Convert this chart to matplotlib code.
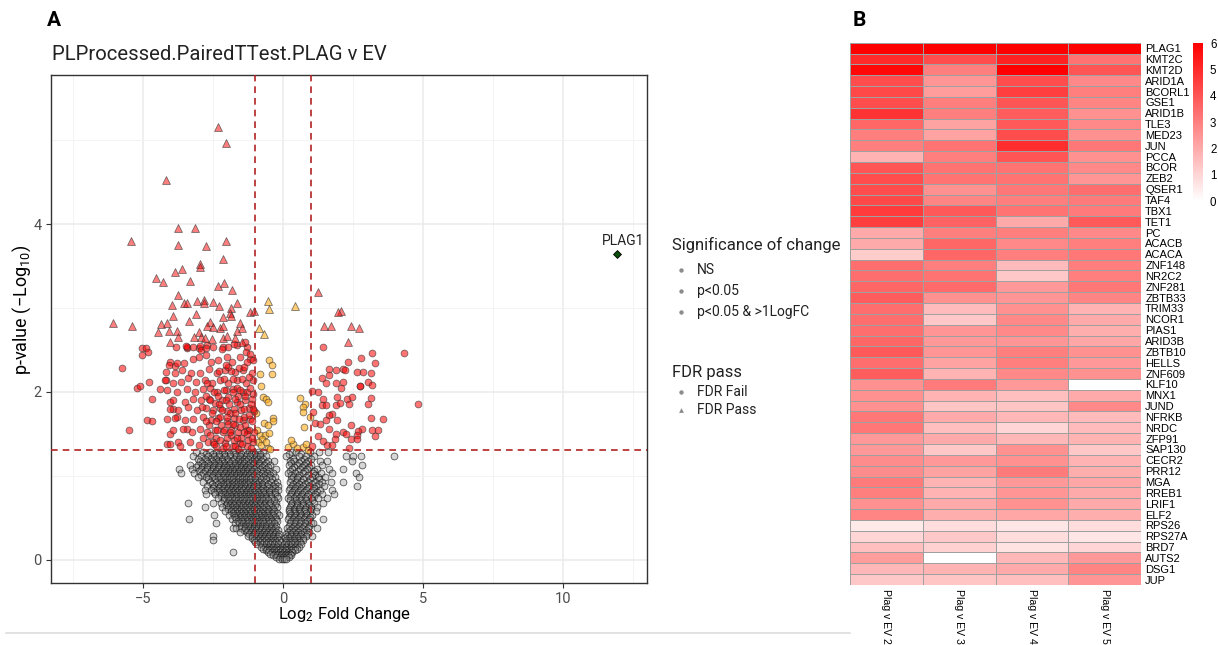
import numpy as np
import matplotlib
matplotlib.use("Agg")
import matplotlib.pyplot as plt
from matplotlib.colors import LinearSegmentedColormap

plt.rcParams['font.family'] = ['Roboto', 'DejaVu Sans']
plt.rcParams['mathtext.fontset'] = 'custom'
plt.rcParams['mathtext.rm'] = 'Roboto'
plt.rcParams['mathtext.default'] = 'regular'

# ---------------- Volcano data: (log2 fold change, -log10 p) ----------------
# Not significant, grouped by -log10 p level
ns_rows = [
    (1.28, [-3.12, -2.86, -2.61, -2.40, -2.18, -1.97, -1.79, -1.58, -1.41, -1.22, -1.06, -0.90, -0.72, 0.31, 0.47, 0.97, 1.27, 1.62]),
    (1.255, [-2.75, -2.50, -2.30, -2.10, -1.90, -1.70, -1.50, -1.30, -1.15, -0.98, -0.82, 0.20, 0.65]),
    (1.23, [-3.22, -2.93, -2.68, -2.47, -2.27, -2.07, -1.88, -1.67, -1.52, -1.33, -1.16, -0.97, -0.81, -0.62, 0.12, 0.56, 0.82, 1.12, 2.26, 2.49, 2.77, 3.98]),
    (1.205, [-3.05, -2.80, -2.58, -2.38, -2.18, -2.00, -1.74, -1.56, -1.39, -1.24, -1.05, -0.88, -0.70, 0.35, 0.75, 1.00]),
    (1.18, [-2.97, -2.72, -2.52, -2.33, -2.16, -1.96, -1.81, -1.62, -1.46, -1.31, -1.12, -0.95, -0.77, -0.52, -0.31, 0.26, 0.41, 0.66, 0.91, 1.31, 1.56, 2.46]),
    (1.155, [-2.88, -2.66, -2.47, -2.27, -2.10, -1.88, -1.70, -1.54, -1.38, -1.19, -1.02, -0.86, -0.60, 0.30, 0.58, 0.84]),
    (1.13, [-3.31, -3.02, -2.81, -2.62, -2.42, -2.23, -2.06, -1.91, -1.72, -1.56, -1.41, -1.26, -1.07, -0.86, -0.66, -0.46, 0.21, 0.51, 0.76, 1.01, 1.41, 2.81]),
    (1.105, [-3.10, -2.90, -2.70, -2.50, -2.32, -2.12, -1.98, -1.82, -1.64, -1.48, -1.33, -1.16, -0.96, -0.76, -0.55, 0.40, 0.68, 0.93]),
    (1.08, [-3.71, -3.26, -2.91, -2.71, -2.51, -2.31, -2.14, -1.96, -1.81, -1.66, -1.51, -1.36, -1.21, -1.02, -0.82, -0.61, -0.26, 0.31, 0.61, 0.86, 1.21, 1.66, 2.16]),
    (1.055, [-2.98, -2.78, -2.58, -2.40, -2.20, -2.02, -1.88, -1.73, -1.58, -1.43, -1.28, -1.11, -0.92, -0.70, -0.48, 0.25, 0.52, 0.78, 1.10]),
    (1.03, [-3.64, -3.16, -2.86, -2.61, -2.41, -2.24, -2.06, -1.89, -1.74, -1.59, -1.44, -1.29, -1.14, -0.96, -0.76, -0.56, -0.36, 0.19, 0.44, 0.71, 1.06, 1.36, 1.76, 2.62]),
    (1.005, [-2.92, -2.68, -2.48, -2.32, -2.14, -1.97, -1.82, -1.67, -1.52, -1.37, -1.22, -1.05, -0.85, -0.65, -0.45, 0.30, 0.58, 0.88, 1.15]),
    (0.98, [-3.02, -2.76, -2.52, -2.31, -2.14, -1.99, -1.84, -1.69, -1.54, -1.39, -1.24, -1.09, -0.91, -0.71, -0.49, -0.29, 0.36, 0.54, 0.81, 1.02, 1.26, 1.51, 2.71]),
    (0.955, [-2.66, -2.44, -2.25, -2.08, -1.92, -1.77, -1.62, -1.47, -1.32, -1.17, -1.01, -0.80, -0.60, -0.38, 0.30, 0.50, 0.72, 0.96, 1.30]),
    (0.93, [-2.84, -2.61, -2.39, -2.21, -2.04, -1.91, -1.76, -1.61, -1.46, -1.31, -1.16, -1.01, -0.84, -0.66, -0.44, -0.21, 0.26, 0.46, 0.64, 0.89, 1.16, 1.41, 1.71, 2.14]),
    (0.905, [-2.55, -2.32, -2.14, -1.98, -1.83, -1.68, -1.53, -1.38, -1.23, -1.08, -0.93, -0.76, -0.55, -0.30, 0.36, 0.56, 0.80, 1.05, 1.30]),
    (0.88, [-2.71, -2.46, -2.26, -2.09, -1.94, -1.79, -1.64, -1.49, -1.34, -1.19, -1.04, -0.89, -0.74, -0.56, -0.34, -0.16, 0.31, 0.49, 0.71, 0.94, 1.19, 1.46, 2.63]),
    (0.855, [-2.50, -2.30, -2.12, -1.96, -1.81, -1.66, -1.51, -1.36, -1.21, -1.06, -0.90, -0.70, -0.50, -0.28, 0.26, 0.44, 0.66, 0.90, 1.12]),
    (0.83, [-2.79, -2.56, -2.36, -2.16, -2.01, -1.86, -1.71, -1.56, -1.41, -1.26, -1.11, -0.96, -0.79, -0.61, -0.41, -0.19, 0.21, 0.39, 0.61, 0.84, 1.06, 1.31, 1.74]),
    (0.805, [-2.45, -2.27, -2.09, -1.93, -1.78, -1.63, -1.48, -1.33, -1.18, -1.03, -0.88, -0.70, -0.50, -0.30, 0.34, 0.55, 0.76, 1.00, 1.22]),
    (0.78, [-2.76, -2.41, -2.21, -2.06, -1.91, -1.76, -1.61, -1.46, -1.31, -1.16, -1.01, -0.86, -0.69, -0.51, -0.29, 0.29, 0.51, 0.69, 0.91, 1.14, 1.41, 1.81]),
    (0.755, [-2.20, -2.00, -1.84, -1.69, -1.54, -1.39, -1.24, -1.09, -0.94, -0.78, -0.62, -0.42, -0.22, 0.24, 0.45, 0.66, 0.86, 1.10]),
    (0.73, [-2.31, -2.11, -1.96, -1.81, -1.66, -1.51, -1.36, -1.21, -1.06, -0.91, -0.76, -0.59, -0.41, -0.19, 0.19, 0.41, 0.59, 0.79, 1.01, 1.24, 1.56]),
    (0.705, [-2.10, -1.92, -1.76, -1.61, -1.46, -1.31, -1.16, -1.01, -0.86, -0.70, -0.52, -0.32, 0.25, 0.45, 0.64, 0.84, 1.05]),
    (0.68, [-3.38, -2.49, -2.21, -2.01, -1.86, -1.71, -1.56, -1.41, -1.26, -1.11, -0.96, -0.81, -0.64, -0.46, -0.24, 0.31, 0.49, 0.71, 0.89, 1.11, 1.44]),
    (0.655, [-2.05, -1.88, -1.73, -1.58, -1.43, -1.28, -1.13, -0.98, -0.83, -0.68, -0.50, -0.30, 0.28, 0.50, 0.70, 0.92]),
    (0.63, [-2.79, -2.16, -1.96, -1.81, -1.66, -1.51, -1.36, -1.21, -1.06, -0.91, -0.76, -0.59, -0.39, -0.21, 0.24, 0.46, 0.61, 0.81, 0.99, 1.21]),
    (0.605, [-1.95, -1.78, -1.63, -1.48, -1.33, -1.18, -1.03, -0.88, -0.72, -0.55, -0.35, 0.22, 0.40, 0.58, 0.78, 1.00]),
    (0.58, [-2.06, -1.86, -1.71, -1.56, -1.41, -1.26, -1.11, -0.96, -0.81, -0.64, -0.49, -0.31, 0.21, 0.39, 0.56, 0.74, 0.96, 1.19]),
    (0.555, [-1.80, -1.64, -1.49, -1.34, -1.19, -1.04, -0.89, -0.73, -0.57, -0.40, -0.20, 0.26, 0.44, 0.62, 0.84]),
    (0.53, [-2.47, -1.91, -1.76, -1.61, -1.46, -1.31, -1.16, -1.01, -0.86, -0.69, -0.54, -0.36, -0.14, 0.29, 0.46, 0.64, 0.86, 1.04]),
    (0.505, [-1.70, -1.55, -1.40, -1.25, -1.10, -0.95, -0.80, -0.64, -0.48, -0.30, 0.22, 0.40, 0.60, 0.80, 0.98]),
    (0.48, [-3.34, -1.81, -1.66, -1.51, -1.36, -1.21, -1.06, -0.91, -0.76, -0.59, -0.44, -0.26, 0.19, 0.36, 0.54, 0.76, 0.94, 1.44]),
    (0.455, [-1.60, -1.45, -1.30, -1.15, -1.00, -0.85, -0.70, -0.54, -0.38, -0.20, 0.28, 0.46, 0.66, 0.86]),
    (0.43, [-2.39, -1.71, -1.56, -1.41, -1.26, -1.11, -0.96, -0.81, -0.66, -0.49, -0.31, 0.24, 0.44, 0.61, 0.79, 1.01, 1.08]),
    (0.405, [-1.50, -1.35, -1.20, -1.05, -0.90, -0.75, -0.60, -0.44, -0.26, 0.20, 0.38, 0.56, 0.74, 0.94]),
    (0.38, [-1.78, -1.66, -1.49, -1.34, -1.19, -1.04, -0.89, -0.74, -0.59, -0.44, -0.29, 0.14, 0.31, 0.49, 0.69, 0.89, 1.20]),
    (0.355, [-1.40, -1.25, -1.10, -0.95, -0.80, -0.65, -0.50, -0.34, -0.18, 0.24, 0.42, 0.62, 0.82]),
    (0.33, [-1.54, -1.29, -1.14, -0.99, -0.84, -0.69, -0.54, -0.39, -0.24, 0.19, 0.36, 0.54, 0.76, 0.94]),
    (0.305, [-1.20, -1.05, -0.90, -0.75, -0.60, -0.45, -0.30, -0.15, 0.12, 0.28, 0.46, 0.66, 0.86]),
    (0.28, [-2.51, -1.24, -1.09, -0.94, -0.79, -0.64, -0.49, -0.34, -0.19, 0.14, 0.29, 0.46, 0.61, 0.81, 1.04]),
    (0.255, [-1.12, -0.97, -0.82, -0.67, -0.52, -0.37, -0.22, 0.08, 0.22, 0.38, 0.54, 0.70]),
    (0.23, [-2.48, -1.04, -0.89, -0.74, -0.59, -0.44, -0.29, -0.14, 0.11, 0.24, 0.39, 0.56, 0.71]),
    (0.205, [-0.98, -0.83, -0.68, -0.53, -0.38, -0.23, -0.08, 0.12, 0.28, 0.44, 0.60]),
    (0.18, [-0.91, -0.76, -0.61, -0.46, -0.31, -0.16, 0.04, 0.19, 0.34, 0.49, 0.64]),
    (0.155, [-0.80, -0.65, -0.50, -0.35, -0.20, -0.05, 0.12, 0.28, 0.42, 0.56]),
    (0.13, [-0.71, -0.56, -0.41, -0.26, -0.11, 0.06, 0.21, 0.36, 0.49]),
    (0.11, [-0.62, -0.48, -0.33, -0.18, -0.03, 0.12, 0.27, 0.42]),
    (0.09, [-1.79, -0.54, -0.39, -0.24, -0.09, 0.04, 0.19, 0.34]),
    (0.07, [-0.45, -0.30, -0.16, -0.02, 0.12, 0.26]),
    (0.05, [-0.36, -0.21, -0.08, 0.06, 0.17, 0.29]),
    (0.03, [-0.26, -0.12, 0.00, 0.12, 0.22]),
    (0.01, [-0.14, -0.04, 0.04, 0.12]),
]

# p < 0.05 but |log2FC| < 1, FDR fail
orange_fail = [
    (-0.51, 2.38), (-0.40, 2.32), (-0.83, 2.21), (-0.39, 2.21), (-0.78, 2.07), (-0.71, 1.94),
    (-0.59, 1.91), (-0.55, 1.88), (-0.37, 1.69), (-0.35, 1.65), (-0.67, 1.63), (-0.55, 1.60),
    (-0.83, 1.49), (-0.65, 1.49), (-0.51, 1.51), (-0.74, 1.44), (-0.89, 1.40), (-0.80, 1.37),
    (-0.55, 1.33), (-0.45, 1.32), (-0.60, 1.40), (-0.92, 1.55), (-0.95, 1.75),
    (0.61, 1.93), (0.79, 1.85), (0.71, 1.82), (0.73, 1.76), (0.75, 1.58), (0.19, 1.34),
    (0.36, 1.38), (0.50, 1.33), (0.70, 1.34), (0.82, 1.38), (0.30, 1.42), (0.88, 1.31), (0.95, 1.70),
]

# p < 0.05 but |log2FC| < 1, FDR pass
orange_pass = [(-0.54, 3.08), (-0.50, 2.99), (0.43, 3.03), (-0.86, 2.76), (-0.68, 2.69)]

# p < 0.05 and |log2FC| > 1, FDR fail
red_fail = [
    (-5.75, 2.29), (-5.05, 2.52), (-4.89, 2.52), (-5.04, 2.44), (-4.83, 2.47), (-5.20, 2.05),
    (-5.11, 2.07), (-4.78, 2.12), (-4.40, 2.04), (-5.50, 1.55), (-4.84, 1.67), (-4.68, 1.65),
    (-4.68, 1.91), (-4.18, 2.14), (-4.04, 2.36), (-3.86, 2.31), (-3.44, 2.52), (-2.99, 2.52),
    (-4.04, 1.88), (-3.92, 1.80), (-3.44, 1.56), (-4.04, 1.50), (-3.77, 1.70), (-4.15, 1.38),
    (-3.75, 1.40), (-3.43, 2.53), (-2.96, 2.55), (-2.71, 2.56), (-2.14, 2.53), (-1.64, 2.56),
    (-1.29, 2.53), (-1.36, 2.60), (-1.18, 2.39),
    (-3.82, 2.53), (-3.46, 2.55), (-3.20, 2.54), (-2.94, 2.50), (-2.73, 2.52), (-2.49, 2.54),
    (-2.19, 2.51), (-1.95, 2.54), (-1.75, 2.57), (-1.32, 2.47), (-1.18, 2.45),
    (-4.06, 2.32), (-3.80, 2.35), (-3.54, 2.34), (-3.20, 2.39), (-2.99, 2.42), (-2.73, 2.44),
    (-2.58, 2.36), (-2.31, 2.38), (-2.01, 2.42), (-1.83, 2.36), (-1.54, 2.42), (-1.30, 2.36),
    (-1.08, 2.38), (-4.18, 2.24), (-3.86, 2.23), (-3.62, 2.26), (-3.30, 2.22), (-2.96, 2.23),
    (-2.63, 2.27), (-2.37, 2.22), (-2.07, 2.26), (-1.71, 2.24), (-1.42, 2.26), (-1.12, 2.22),
    (-4.21, 2.14), (-3.92, 2.10), (-3.65, 2.12), (-3.38, 2.16), (-3.11, 2.12), (-2.79, 2.14),
    (-2.55, 2.10), (-2.23, 2.14), (-1.95, 2.10), (-1.65, 2.14), (-1.32, 2.10), (-1.08, 2.14),
    (-4.15, 2.02), (-3.80, 2.00), (-3.44, 2.03), (-3.14, 2.00), (-2.87, 2.03), (-2.61, 2.05),
    (-2.35, 2.00), (-2.04, 2.02), (-1.77, 2.04), (-1.44, 2.00), (-1.06, 1.98),
    (-3.92, 1.90), (-3.50, 1.88), (-3.20, 1.92), (-2.94, 1.90), (-2.63, 1.92), (-2.43, 1.87),
    (-2.19, 1.90), (-1.95, 1.94), (-1.65, 1.88), (-1.35, 1.90), (-1.11, 1.92),
    (-4.04, 1.80), (-3.74, 1.78), (-3.38, 1.82), (-3.06, 1.78), (-2.75, 1.81), (-2.49, 1.78),
    (-2.25, 1.81), (-2.01, 1.77), (-1.75, 1.80), (-1.48, 1.78), (-1.20, 1.81), (-1.02, 1.77),
    (-4.15, 1.68), (-3.86, 1.69), (-3.50, 1.66), (-3.20, 1.68), (-2.85, 1.70), (-2.58, 1.66),
    (-2.31, 1.69), (-2.01, 1.65), (-1.75, 1.69), (-1.44, 1.66), (-1.18, 1.68),
    (-3.92, 1.54), (-3.56, 1.56), (-3.26, 1.52), (-2.96, 1.56), (-2.70, 1.52), (-2.43, 1.55),
    (-2.13, 1.52), (-1.87, 1.55), (-1.60, 1.52), (-1.30, 1.55), (-1.04, 1.52),
    (-4.04, 1.38), (-3.68, 1.36), (-3.32, 1.40), (-2.99, 1.37), (-2.67, 1.40), (-2.40, 1.36),
    (-2.08, 1.39), (-1.80, 1.36), (-1.54, 1.39), (-1.28, 1.36), (-1.06, 1.40),
    (-2.40, 1.45), (-2.20, 1.60), (-2.00, 1.45), (-1.90, 1.75), (-1.70, 1.60), (-1.60, 1.95),
    (-1.50, 1.45), (-1.40, 1.70), (-1.30, 2.00), (-1.20, 1.55), (-2.30, 1.85), (-2.10, 2.15),
    (-1.85, 2.25), (-1.65, 2.05), (-2.55, 1.75), (-2.45, 2.00), (-1.15, 1.85), (-1.25, 1.42),
    (-1.75, 1.42), (-2.15, 1.33), (-1.95, 1.62), (-1.55, 1.85), (-2.35, 1.55), (-2.65, 1.60),
    (-1.45, 2.15), (-1.10, 1.65), (-2.05, 1.90), (-1.80, 2.00), (-2.25, 1.70), (-1.62, 1.32),
    (-2.85, 1.45), (-2.75, 1.95), (-1.35, 1.60), (-1.95, 2.30), (-2.50, 1.40), (-1.70, 1.75),
    (-2.45, 1.38), (-2.25, 1.42), (-2.05, 1.35), (-1.85, 1.48), (-1.65, 1.45), (-1.45, 1.38),
    (-1.28, 1.50), (-1.12, 1.45), (-2.38, 1.65), (-2.18, 1.78), (-1.98, 1.70), (-1.78, 1.62),
    (-1.58, 1.68), (-1.38, 1.80), (-1.22, 1.72), (-1.08, 1.80), (-2.32, 1.95), (-2.12, 2.02),
    (-1.92, 1.85), (-1.72, 1.92), (-1.52, 2.02), (-1.36, 1.95), (-1.18, 2.05), (-2.28, 2.25),
    (-2.02, 2.32), (-1.78, 2.15), (-1.58, 2.28), (-1.38, 2.30), (-1.22, 2.18), (-2.60, 1.48),
    (-2.75, 1.65), (-2.62, 1.90), (-2.88, 1.82), (-2.70, 2.10), (-1.90, 1.52), (-1.55, 1.58),
    (-2.10, 1.55), (-1.70, 1.35), (-1.40, 1.52), (-1.15, 1.33),
    (1.44, 2.54), (4.34, 2.46), (3.18, 2.46), (2.79, 2.40), (3.30, 2.34), (2.31, 2.36),
    (1.65, 2.27), (1.89, 2.26), (2.16, 2.27), (2.21, 2.26), (2.66, 2.24), (2.85, 2.24),
    (1.38, 2.17), (1.64, 2.20), (3.13, 2.22), (1.52, 2.10), (1.90, 2.11), (2.15, 2.12),
    (2.07, 2.05), (2.74, 2.07), (3.04, 2.12), (3.17, 2.08), (1.05, 2.01), (1.25, 2.00),
    (1.92, 1.94), (1.42, 1.91), (1.39, 1.84), (1.89, 1.84), (2.05, 1.87), (2.27, 1.92),
    (2.45, 1.94), (2.36, 1.85), (3.04, 1.86), (3.14, 1.93), (4.81, 1.86), (1.52, 1.84),
    (1.74, 1.74), (1.65, 1.73), (1.08, 1.76), (1.13, 1.63), (1.32, 1.62), (1.54, 1.67),
    (1.94, 1.66), (2.44, 1.60), (2.81, 1.56), (3.13, 1.69), (3.58, 1.68), (1.65, 1.56),
    (1.90, 1.50), (2.13, 1.52), (2.25, 1.50), (2.69, 1.53), (2.63, 1.49), (3.17, 1.55),
    (3.40, 1.55), (3.29, 1.47), (1.26, 1.47), (1.86, 1.44), (1.42, 1.41), (1.58, 1.37),
    (1.74, 1.37), (2.43, 1.44), (2.63, 1.44), (2.36, 1.33), (1.05, 1.36), (2.75, 2.07),
]

# p < 0.05 and |log2FC| > 1, FDR pass
red_pass = [
    (-2.32, 5.16), (-2.04, 4.97), (-4.18, 4.53), (-3.75, 3.95), (-3.14, 3.95), (-5.43, 3.80),
    (-3.75, 3.75), (-2.75, 3.74), (-2.04, 3.80), (-2.14, 3.58), (-2.96, 3.52), (-2.96, 3.49),
    (-3.86, 3.43), (-3.61, 3.46), (-4.54, 3.36), (-4.29, 3.31), (-3.32, 3.32), (-2.32, 3.26),
    (-2.11, 3.30), (-1.82, 3.22), (-3.75, 3.15), (-3.96, 3.04), (-3.54, 3.06), (-3.43, 3.06),
    (-3.07, 3.08), (-2.82, 3.10), (-2.82, 3.06), (-2.50, 3.07), (-2.29, 3.03), (-1.64, 3.06),
    (-1.86, 3.00), (-1.18, 2.95), (-1.04, 2.97), (-6.07, 2.82), (-5.39, 2.78), (-3.93, 2.90),
    (-3.36, 2.85), (-3.11, 2.93), (-1.89, 2.94), (-2.14, 2.89), (-1.86, 2.90), (-4.36, 2.81),
    (-4.14, 2.82), (-4.07, 2.73), (-4.46, 2.72), (-3.79, 2.73), (-3.75, 2.65), (-4.04, 2.59),
    (-2.61, 2.83), (-2.71, 2.79), (-2.50, 2.77), (-2.25, 2.76), (-2.14, 2.78), (-3.00, 2.71),
    (-3.18, 2.65), (-2.93, 2.65), (-2.79, 2.64), (-2.54, 2.63), (-2.14, 2.64), (-2.00, 2.67),
    (-1.64, 2.73), (-1.54, 2.82), (-1.46, 2.76), (-1.71, 2.64), (-1.46, 2.60),
    (1.25, 3.19), (2.07, 2.97), (1.96, 2.95), (1.46, 2.79), (1.71, 2.78), (2.43, 2.78),
    (2.71, 2.76), (2.32, 2.60),
]

plag1_point = (11.93, 3.65)
p_cut = 1.301   # -log10(0.05)
fc_cut = 1.0

# ---------------- Heatmap data ----------------
genes = ["PLAG1", "KMT2C", "KMT2D", "ARID1A", "BCORL1", "GSE1", "ARID1B", "TLE3", "MED23", "JUN",
         "PCCA", "BCOR", "ZEB2", "QSER1", "TAF4", "TBX1", "TET1", "PC", "ACACB", "ACACA",
         "ZNF148", "NR2C2", "ZNF281", "ZBTB33", "TRIM33", "NCOR1", "PIAS1", "ARID3B", "ZBTB10", "HELLS",
         "ZNF609", "KLF10", "MNX1", "JUND", "NFRKB", "NRDC", "ZFP91", "SAP130", "CECR2", "PRR12",
         "MGA", "RREB1", "LRIF1", "ELF2", "RPS26", "RPS27A", "BRD7", "AUTS2", "DSG1", "JUP"]
comparisons = ["Plag v EV 2", "Plag v EV 3", "Plag v EV 4", "Plag v EV 5"]
ev2 = [6.0, 5.0, 5.8, 4.2, 4.3, 4.2, 4.8, 3.6, 3.0, 3.0,
       1.8, 4.0, 4.2, 4.2, 4.3, 4.6, 4.5, 2.0, 2.0, 1.2,
       3.4, 3.4, 3.6, 3.8, 3.4, 3.4, 3.4, 3.6, 3.9, 3.4,
       3.8, 2.6, 2.6, 2.6, 3.2, 3.2, 2.4, 2.4, 2.7, 2.7,
       3.1, 3.0, 2.6, 2.9, 0.5, 1.0, 1.5, 2.3, 1.7, 1.3]
ev3 = [6.0, 4.2, 3.0, 2.5, 2.3, 3.0, 3.0, 2.2, 2.2, 3.3,
       3.0, 3.3, 3.3, 2.6, 2.9, 3.9, 3.7, 3.0, 3.6, 3.6,
       3.0, 3.3, 3.5, 2.6, 1.6, 1.3, 2.5, 2.4, 2.5, 2.2,
       1.8, 3.1, 1.8, 1.4, 2.0, 1.5, 2.0, 1.3, 2.4, 2.2,
       1.8, 1.8, 2.0, 1.9, 0.8, 1.3, 1.1, 0.0, 1.8, 1.4]
ev4 = [6.0, 5.2, 6.0, 4.2, 4.5, 4.0, 3.8, 3.9, 4.2, 4.9,
       4.0, 3.3, 3.3, 3.2, 3.0, 3.3, 2.0, 3.0, 2.8, 3.0,
       1.6, 1.3, 2.4, 2.5, 2.6, 2.8, 2.8, 2.5, 3.0, 3.0,
       2.8, 2.4, 1.5, 1.4, 1.7, 1.0, 1.7, 2.6, 2.6, 3.1,
       2.4, 2.5, 2.6, 2.1, 0.6, 0.8, 0.7, 1.7, 2.0, 1.5]
ev5 = [6.0, 3.3, 4.0, 2.8, 3.0, 2.9, 2.6, 2.8, 2.6, 3.2,
       2.6, 2.8, 2.5, 3.4, 3.1, 3.1, 3.9, 2.8, 3.0, 3.2,
       3.0, 3.0, 3.2, 2.9, 1.8, 2.0, 1.9, 2.1, 2.6, 2.4,
       2.6, 0.0, 2.0, 2.8, 1.6, 1.6, 1.8, 1.3, 1.8, 1.9,
       2.1, 2.0, 2.0, 1.9, 0.8, 0.6, 1.0, 2.4, 2.9, 2.5]
cbar_ticks = [0, 1, 2, 3, 4, 5, 6]

# ---------------- Figure ----------------
W, H = 1218, 645
fig = plt.figure(figsize=(W / 100, H / 100), dpi=100)


def frac(x0, y0, x1, y1):
    return [x0 / W, 1 - y1 / H, (x1 - x0) / W, (y1 - y0) / H]


ax = fig.add_axes(frac(50.5, 75, 647, 583))
ax.set_xlim(-8.3, 13.0)
ax.set_ylim(-0.28, 5.78)
ax.set_xticks([-5, 0, 5, 10])
ax.set_xticks([-7.5, -2.5, 2.5, 7.5, 12.5], minor=True)
ax.set_yticks([0, 2, 4])
ax.set_yticks([1, 3, 5], minor=True)
ax.grid(which='major', color='#ebebeb', linewidth=1.1)
ax.grid(which='minor', color='#f3f3f3', linewidth=0.7)
ax.set_axisbelow(True)
for sp in ax.spines.values():
    sp.set_color('#333333')
    sp.set_linewidth(1.0)
ax.tick_params(which='major', direction='out', length=3.5, width=0.8, color='#333333',
               labelcolor='#4d4d4d', labelsize=10.5, pad=3)
ax.tick_params(which='minor', length=0)

ns_x = [x for y, xs in ns_rows for x in xs]
ns_y = [y for y, xs in ns_rows for x in xs]
ax.scatter(ns_x, ns_y, s=24, marker='o', facecolor=(0.58, 0.58, 0.58, 0.38),
           edgecolor=(0.05, 0.05, 0.05, 0.68), linewidth=0.6, zorder=3)


def plot_group(points, marker, face, size):
    xs = [p[0] for p in points]
    ys = [p[1] for p in points]
    ax.scatter(xs, ys, s=size, marker=marker, facecolor=face,
               edgecolor=(0.2, 0.2, 0.2, 0.65), linewidth=0.6, zorder=4)


plot_group(orange_fail, 'o', (1.0, 0.68, 0.1, 0.6), 24)
plot_group(red_fail, 'o', (1.0, 0.0, 0.0, 0.55), 24)
plot_group(orange_pass, '^', (1.0, 0.68, 0.1, 0.6), 32)
plot_group(red_pass, '^', (1.0, 0.0, 0.0, 0.5), 32)

ax.axhline(p_cut, color='#b22222', linestyle=(0, (4, 3)), linewidth=1.2, zorder=5)
ax.axvline(-fc_cut, color='#b22222', linestyle=(0, (4, 3)), linewidth=1.2, zorder=5)
ax.axvline(fc_cut, color='#b22222', linestyle=(0, (4, 3)), linewidth=1.2, zorder=5)

ax.scatter([plag1_point[0]], [plag1_point[1]], s=16, marker='D', facecolor='#0b4d0b',
           edgecolor='black', linewidth=0.6, zorder=6)
ax.text(plag1_point[0] + 0.22, plag1_point[1] + 0.07, "PLAG1", fontsize=10, ha='center',
        va='bottom', color='#222222', zorder=6)

fig.text(52 / W, 1 - 55 / H, "PLProcessed.PairedTTest.PLAG v EV", fontsize=14.6,
         ha='left', va='center', color='#222222')
fig.text(345 / W, 1 - 614 / H, "Log$_2$ Fold Change", fontsize=12, ha='center', va='center')
fig.text(22 / W, 1 - 310 / H, "p-value (\u2212Log$_{10}$)", fontsize=13, ha='center',
         va='center', rotation=90)
fig.text(54 / W, 1 - 20 / H, "A", fontsize=15, fontweight='bold', ha='center', va='center')
fig.text(859 / W, 1 - 20 / H, "B", fontsize=15, fontweight='bold', ha='center', va='center')

# ---------------- Legend ----------------
lg = fig.add_axes([0, 0, 1, 1])
lg.set_xlim(0, W)
lg.set_ylim(H, 0)
lg.axis('off')
lg.patch.set_alpha(0)
lg.text(672, 245, "Significance of change", fontsize=12, ha='left', va='center', color='#222222')
for yy, lab in zip([270, 291, 312], ["NS", "p<0.05", "p<0.05 & >1LogFC"]):
    lg.scatter([681], [yy], s=10, marker='o', color='#8c8c8c', linewidth=0)
    lg.text(697, yy, lab, fontsize=10, ha='left', va='center', color='#222222')
lg.text(672, 372, "FDR pass", fontsize=12, ha='left', va='center', color='#222222')
lg.scatter([681], [392], s=10, marker='o', color='#8c8c8c', linewidth=0)
lg.text(697, 392, "FDR Fail", fontsize=10, ha='left', va='center', color='#222222')
lg.scatter([681], [410], s=12, marker='^', color='#8c8c8c', linewidth=0)
lg.text(697, 410, "FDR Pass", fontsize=10, ha='left', va='center', color='#222222')
lg.plot([6, 850], [633, 633], color='#dddddd', linewidth=1.2)

# ---------------- Heatmap ----------------
cmap = LinearSegmentedColormap.from_list("wr", ["#ffffff", "#ff0000"])
values = np.column_stack([ev2, ev3, ev4, ev5])
hm = fig.add_axes(frac(850, 42.7, 1141, 585))
mesh = hm.pcolormesh(values, cmap=cmap, vmin=0, vmax=6, edgecolors='#a0a0a0', linewidth=0.5)
hm.set_xlim(0, len(comparisons))
hm.set_ylim(len(genes), 0)
for sp in hm.spines.values():
    sp.set_visible(False)
hm.yaxis.tick_right()
hm.set_yticks(np.arange(len(genes)) + 0.5)
hm.set_yticklabels(genes, fontsize=8, family=['Liberation Sans', 'DejaVu Sans'])
hm.set_xticks(np.arange(len(comparisons)) + 0.5)
hm.set_xticklabels(comparisons, rotation=-90, fontsize=7.6, family=['Liberation Sans', 'DejaVu Sans'])
hm.tick_params(length=0, pad=3)
hm.tick_params(axis='x', pad=3)

cax = fig.add_axes(frac(1193, 43, 1203, 201))
cb = fig.colorbar(mesh, cax=cax, ticks=cbar_ticks)
cb.outline.set_visible(False)
cb.ax.tick_params(length=0, labelsize=8.3, pad=5)
for t in cb.ax.get_yticklabels():
    t.set_family(['Liberation Sans', 'DejaVu Sans'])

fig.savefig("out.png", dpi=100)
